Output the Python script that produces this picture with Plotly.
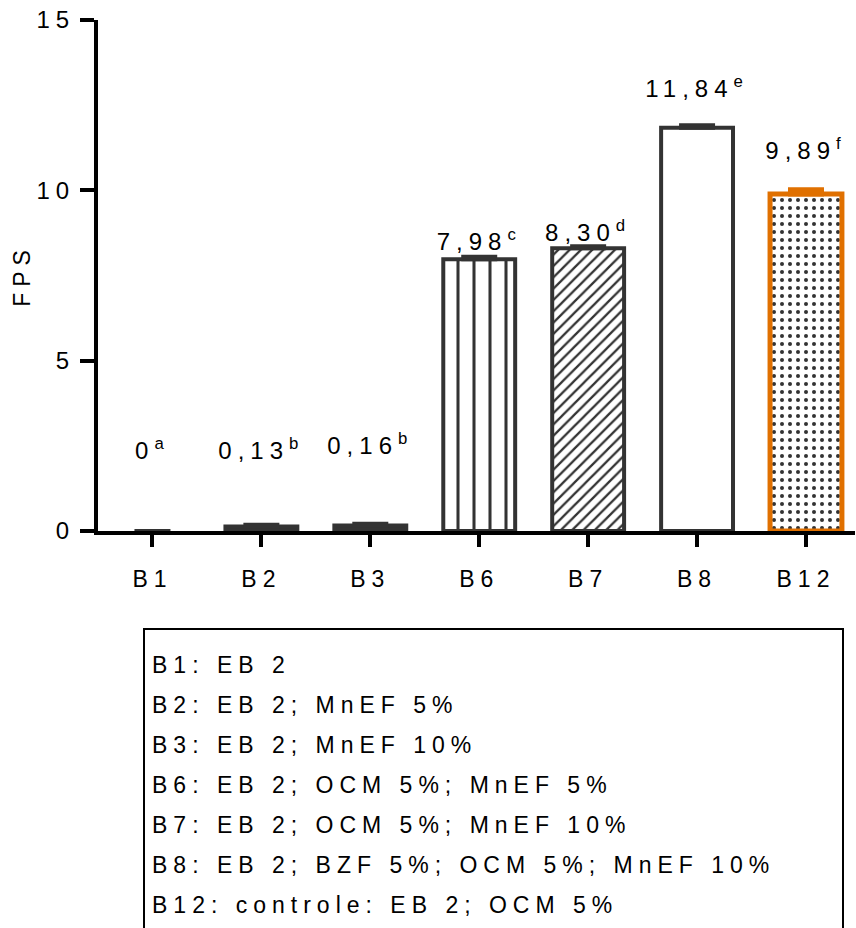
import plotly.graph_objects as go

# Formulations and measured FPS
categories = ["B1", "B2", "B3", "B6", "B7", "B8", "B12"]
fps = [0, 0.13, 0.16, 7.98, 8.30, 11.84, 9.89]
fps_err = [0, 0.05, 0.05, 0.07, 0.06, 0.07, 0.13]
value_text = ["0", "0,13", "0,16", "7,98", "8,30", "11,84", "9,89"]
letters = ["a", "b", "b", "c", "d", "e", "f"]

legend_lines = [
    "B1: EB 2",
    "B2: EB 2; MnEF 5%",
    "B3: EB 2; MnEF 10%",
    "B6: EB 2; OCM 5%; MnEF 5%",
    "B7: EB 2; OCM 5%; MnEF 10%",
    "B8: EB 2; BZF 5%; OCM 5%; MnEF 10%",
    "B12: controle: EB 2; OCM 5%",
]

DARK = "#333333"
ORANGE = "#E07000"
FONT = "Liberation Sans, Arial, sans-serif"

# per-bar styling
edge_colors = [DARK] * 6 + [ORANGE]
edge_widths = [0, 4, 4, 4, 4, 4, 5]
fill_colors = [DARK, DARK, DARK, "white", "white", "white", "white"]
pat_shapes = ["", "", "", "|", "/", "", "."]
pat_size = [8, 8, 8, 16, 8, 8, 8]
pat_solid = [0.3, 0.3, 0.3, 0.19, 0.28, 0.3, 0.2]
cap_colors = [DARK] * 6 + [ORANGE]
cap_thick = [4, 4, 4, 4, 4, 4, 5]

# height of each value label above the top of its bar (axis units)
label_gap = [2.3, 2.17, 2.28, 0.45, 0.40, 1.08, 1.21]

fig = go.Figure()
for i, cat in enumerate(categories):
    marker = dict(color=fill_colors[i],
                  line=dict(color=edge_colors[i], width=edge_widths[i]))
    if pat_shapes[i]:
        marker["pattern"] = dict(shape=pat_shapes[i], size=pat_size[i],
                                 solidity=pat_solid[i], fgcolor=DARK,
                                 fgopacity=1)
    fig.add_trace(go.Bar(
        x=[cat], y=[fps[i]], width=0.66, marker=marker,
        error_y=dict(type="data", array=[fps_err[i]], arrayminus=[0],
                     symmetric=False, color=cap_colors[i],
                     thickness=cap_thick[i], width=18),
        showlegend=False,
    ))

# value labels with significance letters
fig.add_trace(go.Scatter(
    x=categories,
    y=[v + g for v, g in zip(fps, label_gap)],
    mode="text",
    text=[f"{t}<sup>{l}</sup>" for t, l in zip(value_text, letters)],
    textposition="middle center",
    textfont=dict(family=FONT, size=24, color="black"),
    hoverinfo="skip", showlegend=False, cliponaxis=False,
))

# description of each formulation, in a boxed panel under the chart
fig.add_trace(go.Scatter(
    x=[0.0] * len(legend_lines),
    y=list(range(len(legend_lines))),
    mode="text", text=legend_lines, textposition="middle right",
    textfont=dict(family=FONT, size=23, color="black"),
    xaxis="x2", yaxis="y2",
    hoverinfo="skip", showlegend=False, cliponaxis=False,
))

H = 928.0
PLOT_TOP = 20
PLOT_H = H - PLOT_TOP
X0, X1 = 98, 855


def py_to_paper(py):
    return (H - py) / PLOT_H


def px_to_paper(px):
    return (px - X0) / (X1 - X0)


fig.add_shape(type="rect", xref="paper", yref="paper",
              x0=px_to_paper(144), x1=px_to_paper(843),
              y0=py_to_paper(960), y1=py_to_paper(629),
              line=dict(color="black", width=2), fillcolor="rgba(0,0,0,0)")

fig.update_layout(
    width=856, height=928,
    margin=dict(l=X0, r=856 - X1, t=PLOT_TOP, b=0, autoexpand=False),
    plot_bgcolor="white", paper_bgcolor="white",
    font=dict(family=FONT, size=23, color="black"),
    barmode="overlay",
    xaxis=dict(range=[-0.5, 6.45], showline=True, linecolor="black", linewidth=4,
               ticks="outside", ticklen=12, tickwidth=4, tickcolor="black",
               showgrid=False, zeroline=False, fixedrange=True,
               ticklabelstandoff=12, automargin=False,
               tickfont=dict(family=FONT, size=23)),
    yaxis=dict(range=[0, 15], tickvals=[0, 5, 10, 15], showline=True,
               domain=[py_to_paper(531), 1.0], automargin=False,
               linecolor="black", linewidth=4, ticks="outside", ticklen=14,
               tickwidth=4, tickcolor="black", showgrid=False, zeroline=False,
               fixedrange=True,
               title=dict(text="FPS", font=dict(family=FONT, size=23), standoff=12),
               tickfont=dict(family=FONT, size=24)),
    xaxis2=dict(domain=[px_to_paper(152), 1.0], range=[0, 1], visible=False,
                fixedrange=True, anchor="y2"),
    yaxis2=dict(domain=[0.0, py_to_paper(629)], range=[6.525, -0.95],
                visible=False, fixedrange=True, anchor="x2"),
)

# wide character tracking used throughout the figure's lettering
spacing_js = """
var st = document.createElement('style');
st.textContent = '.main-svg text { letter-spacing: 6px; }';
document.head.appendChild(st);
"""
fig.write_html("out.html", post_script=spacing_js)
